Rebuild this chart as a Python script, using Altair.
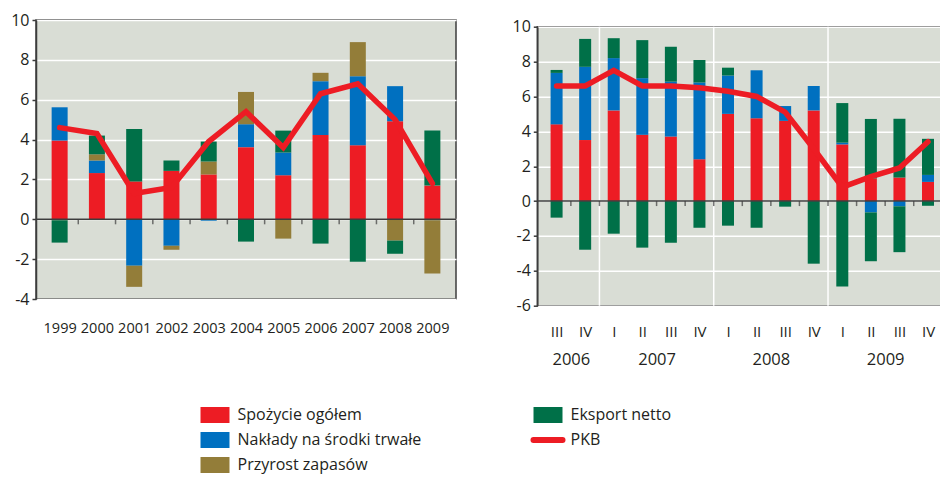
import json
import altair as alt
import pandas as pd

# ---------------- dane roczne (lewy panel) ----------------
lata = ["1999", "2000", "2001", "2002", "2003", "2004", "2005", "2006", "2007", "2008", "2009"]
spozycie_r = [3.95, 2.32, 1.90, 2.43, 2.25, 3.62, 2.21, 4.23, 3.72, 4.92, 1.69]
naklady_r = [1.67, 0.63, -2.33, -1.33, -0.07, 1.15, 1.14, 2.70, 3.46, 1.76, -0.05]
zapasy_r = [-0.05, 0.31, -1.06, -0.20, 0.65, 1.62, -0.97, 0.42, 1.71, -1.07, -2.67]
eksport_r = [-1.12, 0.94, 2.63, 0.52, 1.00, -1.12, 1.10, -1.22, -2.13, -0.66, 2.77]
pkb_r = [4.6, 4.3, 1.3, 1.6, 3.9, 5.4, 3.6, 6.3, 6.8, 5.0, 1.8]

# ---------------- dane kwartalne (prawy panel) ----------------
kwartaly = ["III", "IV", "I", "II", "III", "IV", "I", "II", "III", "IV", "I", "II", "III", "IV"]
lata_kw = ["2006", "2007", "2008", "2009"]
kw_w_roku = [2, 4, 4, 4]
spozycie_k = [4.40, 3.50, 5.20, 3.80, 3.70, 2.40, 5.00, 4.75, 4.60, 5.20, 3.25, 1.30, 1.35, 1.10]
naklady_k = [2.95, 4.20, 3.00, 3.25, 3.15, 4.40, 2.20, 2.75, 0.85, 1.40, 0.10, -0.65, -0.30, 0.40]
zielone_plus_k = [0.17, 1.60, 1.14, 2.18, 2.00, 1.29, 0.45, 0.0, 0.0, 0.0, 2.27, 3.41, 3.37, 2.07]
zielone_minus_k = [-0.95, -2.79, -1.87, -2.67, -2.39, -1.53, -1.41, -1.53, -0.32, -3.59, -4.90, -2.80, -2.63, -0.27]
pkb_k = [6.6, 6.6, 7.5, 6.6, 6.6, 6.5, 6.3, 6.0, 5.1, 3.0, 0.8, 1.4, 1.9, 3.4]

serie = ["Spożycie ogółem", "Nakłady na środki trwałe", "Przyrost zapasów", "Eksport netto", "PKB"]
kolory = ["#ed1c24", "#0070c0", "#937d39", "#007048", "#ed1c24"]

FONT = "Open Sans"
TXT = "#231f20"
FRAME = "#3c3c3c"
BG = "#d9ddd5"

color_scale = alt.Scale(domain=serie, range=kolory)


def y_axis(lo, hi):
    return alt.Axis(values=list(range(lo, hi + 1, 2)), labelExpr="datum.value + ''", title=None,
                    grid=True, gridColor="white",
                    gridWidth=1.5, domainColor=FRAME, domainWidth=1.5, tickColor=FRAME,
                    tickSize=4, tickWidth=1.5, labelPadding=3, labelFontSize=16, labelFont=FONT,
                    labelColor=TXT)


# ---------------- lewy panel ----------------
n_l = len(lata)
rows = []
for i in range(n_l):
    for k, (s, vals) in enumerate(zip(serie[:4], [spozycie_r, naklady_r, zapasy_r, eksport_r])):
        rows.append({"idx": i, "seria": s, "wartosc": vals[i], "kolejnosc": k})
bars_l = pd.DataFrame(rows)
line_l = pd.DataFrame({"idx": list(range(n_l)), "wartosc": pkb_r})
ticks_l = pd.DataFrame({"g": [i + 0.5 for i in range(n_l - 1)]})
zero_df = pd.DataFrame({"z": [0]})

xs_l = alt.Scale(domain=[-0.5, n_l - 0.5], nice=False, zero=False)
ys_l = alt.Scale(domain=[-4, 10], nice=False, zero=False)
xax_l = alt.Axis(values=list(range(n_l)), labelExpr=json.dumps(lata) + "[datum.value]", title=None,
                 domain=False, ticks=False, tickSize=0, grid=False, labelPadding=22, labelFontSize=14.5,
                 labelAngle=0, labelFlush=False, labelOverlap=False, labelFont=FONT, labelColor=TXT)
yax_l = y_axis(-4, 10)

bl = alt.Chart(bars_l).mark_bar(size=16).encode(
    x=alt.X("idx:Q", scale=xs_l, axis=xax_l),
    y=alt.Y("wartosc:Q", stack="zero", scale=ys_l, axis=yax_l),
    color=alt.Color("seria:N", scale=color_scale, legend=None),
    order=alt.Order("kolejnosc:Q"),
)
zl = alt.Chart(zero_df).mark_rule(color=FRAME, strokeWidth=1.5).encode(
    y=alt.Y("z:Q", scale=ys_l, axis=yax_l))
tl = alt.Chart(ticks_l).mark_tick(orient="vertical", size=5, thickness=1.5, yOffset=2.5, color=FRAME).encode(
    x=alt.X("g:Q", scale=xs_l, axis=xax_l),
    y=alt.Y("z:Q", scale=ys_l, axis=yax_l),
).transform_calculate(z="0")
ll = alt.Chart(line_l).mark_line(color="#ed1c24", strokeWidth=5.5, strokeCap="round", strokeJoin="miter").encode(
    x=alt.X("idx:Q", scale=xs_l, axis=xax_l),
    y=alt.Y("wartosc:Q", scale=ys_l, axis=yax_l),
)
left = alt.layer(bl, zl, tl, ll).properties(
    width=420, height=279,
    view=alt.ViewBackground(fill=BG, stroke=FRAME, strokeWidth=1.5),
)

# ---------------- prawy panel ----------------
n_r = len(kwartaly)
rows = []
seria_k = ["Spożycie ogółem", "Nakłady na środki trwałe", "Eksport netto", "Eksport netto"]
for i in range(n_r):
    for k, (s, vals) in enumerate(zip(seria_k, [spozycie_k, naklady_k, zielone_plus_k, zielone_minus_k])):
        rows.append({"idx": i, "seria": s, "wartosc": vals[i], "kolejnosc": k})
bars_r = pd.DataFrame(rows)
line_r = pd.DataFrame({"idx": list(range(n_r)), "wartosc": pkb_k})
ticks_r = pd.DataFrame({"g": [i + 0.5 for i in range(n_r - 1)]})

granice, srodki, pos = [], [], -0.5
for c in kw_w_roku:
    srodki.append(pos + c / 2)
    pos += c
    granice.append(pos)
granice = granice[:-1]
rok_df = pd.DataFrame({"g": granice})

xs_r = alt.Scale(domain=[-0.5, n_r - 0.5], nice=False, zero=False)
ys_r = alt.Scale(domain=[-6, 10], nice=False, zero=False)
xax_q = alt.Axis(values=list(range(n_r)), labelExpr=json.dumps(kwartaly) + "[datum.value]", title=None,
                 orient="bottom", domain=False, ticks=False, tickSize=0, grid=False, labelPadding=19,
                 labelFontSize=15, labelAngle=0, labelFlush=False, labelOverlap=False,
                 labelFont=FONT, labelColor=TXT)
xax_y = alt.Axis(values=srodki, labelExpr=json.dumps(dict(zip([str(s) for s in srodki], lata_kw))) + "[''+datum.value]",
                 title=None, orient="bottom", domain=False, ticks=False, tickSize=0, grid=False,
                 labelPadding=46, labelFontSize=16.5, labelAngle=0, labelFlush=False, labelOverlap=False,
                 labelFont=FONT, labelColor=TXT)
yax_r = y_axis(-6, 10)

rr = alt.Chart(rok_df).mark_rule(color="white", strokeWidth=1.5).encode(
    x=alt.X("g:Q", scale=xs_r, axis=None))
br = alt.Chart(bars_r).mark_bar(size=12).encode(
    x=alt.X("idx:Q", scale=xs_r, axis=xax_q),
    y=alt.Y("wartosc:Q", stack="zero", scale=ys_r, axis=yax_r),
    color=alt.Color("seria:N", scale=color_scale, legend=None),
    order=alt.Order("kolejnosc:Q"),
)
zr = alt.Chart(zero_df).mark_rule(color=FRAME, strokeWidth=1.5).encode(
    y=alt.Y("z:Q", scale=ys_r, axis=yax_r))
tr = alt.Chart(ticks_r).mark_tick(orient="vertical", size=5, thickness=1.5, yOffset=2.5, color=FRAME).encode(
    x=alt.X("g:Q", scale=xs_r, axis=None),
    y=alt.Y("z:Q", scale=ys_r, axis=yax_r),
).transform_calculate(z="0")
lr = alt.Chart(line_r).mark_line(color="#ed1c24", strokeWidth=5.5, strokeCap="round", strokeJoin="miter").encode(
    x=alt.X("idx:Q", scale=xs_r, axis=xax_y),
    y=alt.Y("wartosc:Q", scale=ys_r, axis=yax_r),
)
right = alt.layer(rr, br, zr, tr, lr).resolve_axis(x="independent").properties(
    width=410, height=279,
    view=alt.ViewBackground(fill=BG, stroke=FRAME, strokeWidth=1.5),
)
# odstęp nad prawym panelem (w oryginale panel leży nieco niżej)
spacer = alt.Chart(zero_df).mark_point(opacity=0).properties(
    width=410, height=1, view=alt.ViewBackground(stroke="transparent", fill="transparent"))
right_col = alt.vconcat(spacer, right, spacing=5.7, bounds="flush")

# ---------------- legenda ----------------
leg_df = pd.DataFrame({"etykieta": serie, "kol": [i // 3 for i in range(len(serie))],
                       "wiersz": [i % 3 for i in range(len(serie))]})
lx = alt.Scale(domain=[0, 1], range=[179, 512])
ly = alt.Scale(domain=[0, 2], range=[7, 57])
sw = alt.Chart(leg_df).transform_filter("datum.etykieta != 'PKB'").mark_point(
    shape="M-1,-0.55H1V0.55H-1Z", size=841, filled=True, opacity=1, strokeWidth=0).encode(
    x=alt.X("kol:Q", scale=lx, axis=None), y=alt.Y("wiersz:Q", scale=ly, axis=None),
    color=alt.Color("etykieta:N", scale=color_scale, legend=None))
pk = alt.Chart(leg_df).transform_filter("datum.etykieta == 'PKB'").mark_point(
    shape="stroke", size=841, filled=False, opacity=1, strokeWidth=6, strokeCap="round").encode(
    x=alt.X("kol:Q", scale=lx, axis=None), y=alt.Y("wiersz:Q", scale=ly, axis=None),
    color=alt.Color("etykieta:N", scale=color_scale, legend=None))
tx = alt.Chart(leg_df).mark_text(align="left", baseline="middle", dx=22.5, fontSize=16, color=TXT).encode(
    x=alt.X("kol:Q", scale=lx, axis=None), y=alt.Y("wiersz:Q", scale=ly, axis=None),
    text="etykieta:N")
legend = alt.layer(sw, pk, tx).properties(
    width=700, height=62, view=alt.ViewBackground(stroke="transparent", fill="transparent"))

chart = alt.vconcat(
    alt.hconcat(left, right_col, spacing=52.3),
    legend, spacing=37,
).properties(
    padding={"left": 1, "top": 3, "right": -9, "bottom": 0},
    background="white",
).configure_axis(
    labelFont=FONT, labelColor=TXT,
).configure_text(font=FONT).configure_title(font=FONT).configure_view(stroke="transparent")

chart.save("out.html", embed_options={"renderer": "svg", "actions": False})
